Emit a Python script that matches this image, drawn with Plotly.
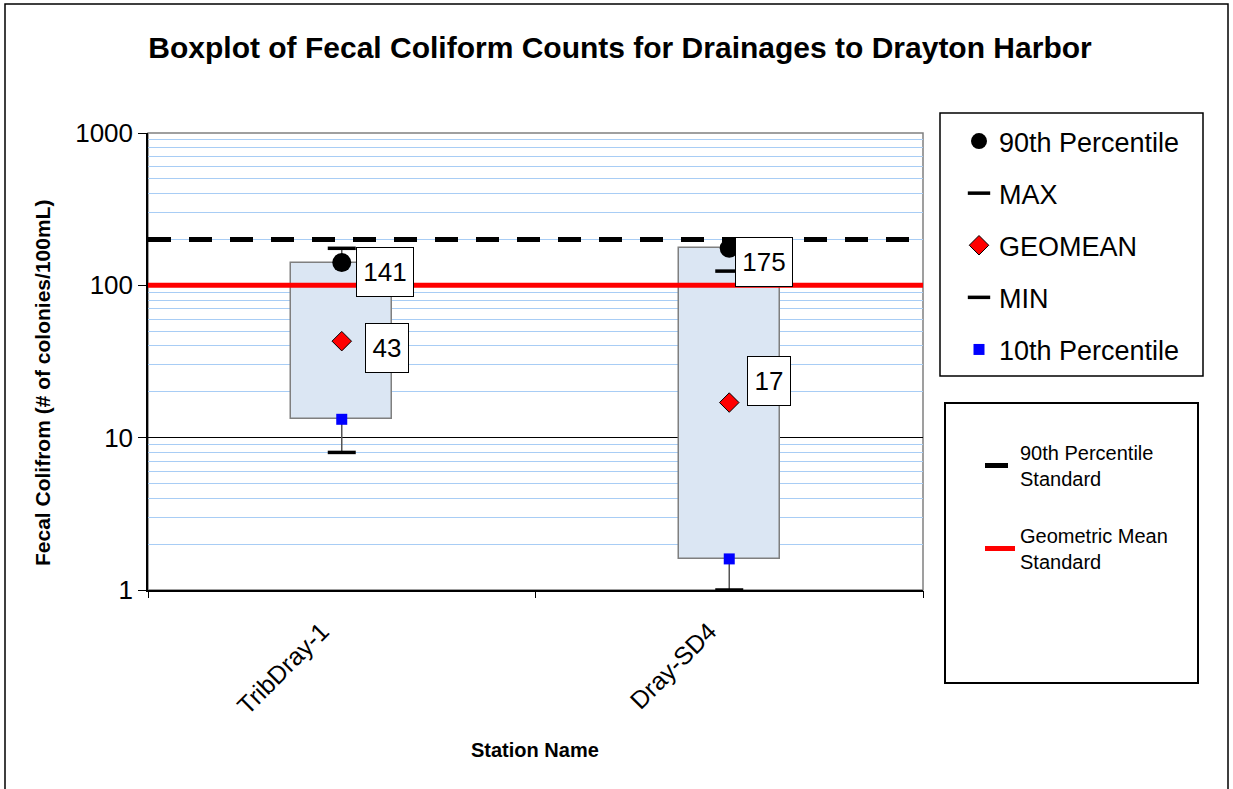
import math
import plotly.graph_objects as go

# ---------------- data ----------------
stations = ["TribDray-1", "Dray-SD4"]
p90 = [141, 175]          # 90th percentile (box top)
vmax = [175, 124]         # MAX
geomean = [43, 17]        # GEOMEAN
vmin = [8, 1]             # MIN
p10 = [13.2, 1.6]         # 10th percentile (box bottom)
p90_labels = ["141", "175"]
geo_labels = ["43", "17"]
std_p90 = 200             # 90th percentile standard
std_geo = 100             # geometric mean standard
ytick_vals = [1, 10, 100, 1000]
ytick_text = ["1", "10", "100", "1000"]

# ---------------- styling ----------------
W, H = 1233, 789
L, R, T, B = 148, 923, 133, 590
FONT = "Liberation Sans, Arial, sans-serif"
BOX_FILL = "#DBE6F3"
GRID_BLUE = "#A8CDF5"

def px_x(px):
    return (px - L) / (R - L)

def px_y(py):
    return (B - py) / (B - T)

# label pixel offsets (style, not data)
p90_lab_shift = [(43, -9), (35, -14)]
geo_lab_shift = [(45, -7), (40, 22)]

n = len(stations)
xs = list(range(n))

fig = go.Figure()

# boxes (10th to 90th percentile)
fig.add_trace(go.Bar(
    x=xs, y=[p90[i] - p10[i] for i in range(n)], base=p10, width=0.26,
    marker=dict(color=BOX_FILL, line=dict(color="#7F7F7F", width=1.5)),
    showlegend=False, hoverinfo="skip"))

# whiskers
wx, wy = [], []
for i in range(n):
    wx += [i, i, None]
    wy += [vmin[i], p10[i], None]
    if vmax[i] > p90[i]:
        wx += [i, i, None]
        wy += [p90[i], vmax[i], None]
fig.add_trace(go.Scatter(x=wx, y=wy, mode="lines",
                         line=dict(color="#555555", width=1.5),
                         showlegend=False, hoverinfo="skip", cliponaxis=False))

common = dict(mode="markers", cliponaxis=False, legend="legend")
fig.add_trace(go.Scatter(x=xs, y=p90, name="90th Percentile", legendgroup="g1",
                         marker=dict(symbol="circle", size=19, color="black"), **common))
fig.add_trace(go.Scatter(x=xs, y=vmax, name="MAX", legendgroup="g2",
                         marker=dict(symbol="line-ew", size=20, color="black",
                                     line=dict(color="black", width=3.5)), **common))
fig.add_trace(go.Scatter(x=xs, y=geomean, name="GEOMEAN", legendgroup="g3",
                         marker=dict(symbol="diamond", size=15, color="#FF0000",
                                     line=dict(color="black", width=1)), **common))
fig.add_trace(go.Scatter(x=xs, y=vmin, name="MIN", legendgroup="g4",
                         marker=dict(symbol="line-ew", size=20, color="black",
                                     line=dict(color="black", width=3.5)), **common))
fig.add_trace(go.Scatter(x=xs, y=p10, name="10th Percentile", legendgroup="g5",
                         marker=dict(symbol="square", size=11, color="#0000FF"), **common))

# standards (on overlay axis x2 spanning the full category range)
xr = [-0.5, n - 0.5]
fig.add_trace(go.Scatter(x=xr, y=[std_p90, std_p90], xaxis="x2", mode="lines",
                         name="90th Percentile<br>Standard", legend="legend2", legendgroup="s1",
                         line=dict(color="black", width=5, dash="23px,18px"),
                         hoverinfo="skip"))
fig.add_trace(go.Scatter(x=xr, y=[std_geo, std_geo], xaxis="x2", mode="lines",
                         name="Geometric Mean<br>Standard", legend="legend2", legendgroup="s2",
                         line=dict(color="#FF0000", width=5),
                         hoverinfo="skip"))

# data labels
annotations = []
for i in range(n):
    for val, txt, (dx, dy) in ((p90[i], p90_labels[i], p90_lab_shift[i]),
                               (geomean[i], geo_labels[i], geo_lab_shift[i])):
        annotations.append(dict(
            x=i, y=math.log10(val), xref="x", yref="y", text=txt, showarrow=False,
            xshift=dx, yshift=dy, font=dict(family=FONT, size=26, color="black"),
            bgcolor="white", bordercolor="black", borderwidth=1, borderpad=1,
            width=14 * len(txt) + 12, height=46, align="center", valign="middle"))

# axis titles
annotations.append(dict(x=px_x(42), y=px_y(383), xref="paper", yref="paper",
                        xanchor="center", yanchor="middle",
                        text="<b>Fecal Colifrom (# of colonies/100mL)</b>", textangle=-90,
                        showarrow=False, font=dict(family=FONT, size=21, color="black")))
annotations.append(dict(x=px_x(535), y=px_y(750), xref="paper", yref="paper",
                        xanchor="center", yanchor="middle",
                        text="<b>Station Name</b>", showarrow=False,
                        font=dict(family=FONT, size=20, color="black")))

shapes = [
    # outer chart border
    dict(type="rect", xref="paper", yref="paper", x0=px_x(5), x1=px_x(1228),
         y0=px_y(805), y1=px_y(4), line=dict(color="black", width=1.5), layer="below"),
    # plot area border (top/right gray)
    dict(type="rect", xref="paper", yref="paper", x0=0, x1=1, y0=0, y1=1,
         line=dict(color="#808080", width=1.5), layer="below"),
    # legend boxes
    dict(type="rect", xref="paper", yref="paper", x0=px_x(940), x1=px_x(1203),
         y0=px_y(376), y1=px_y(113), line=dict(color="black", width=1.5)),
    dict(type="rect", xref="paper", yref="paper", x0=px_x(945), x1=px_x(1198),
         y0=px_y(683), y1=px_y(403), line=dict(color="black", width=2)),
]

fig.update_layout(
    width=W, height=H,
    margin=dict(l=L, r=W - R, t=T, b=H - B, pad=0),
    paper_bgcolor="white", plot_bgcolor="white",
    font=dict(family=FONT, color="black"),
    title=dict(text="<b>Boxplot of Fecal Coliform Counts for Drainages to Drayton Harbor</b>",
               x=620 / W, xref="container", xanchor="center",
               y=1 - 47 / H, yref="container", yanchor="middle",
               font=dict(family=FONT, size=30, color="black")),
    bargap=0,
    xaxis=dict(range=xr, tickvals=xs, ticktext=stations, tickangle=-45,
               tickfont=dict(family=FONT, size=25, color="black"),
               ticks="", showgrid=False, zeroline=False,
               ticklabelstandoff=15, ticklabelshift=-20,
               showline=True, linecolor="black", linewidth=1.5),
    xaxis2=dict(range=xr, overlaying="x", anchor="y", side="bottom",
                tickvals=[i - 0.5 for i in range(n + 1)], ticks="outside", ticklen=7,
                tickcolor="black", showticklabels=False, showgrid=False, zeroline=False,
                showline=False),
    yaxis=dict(type="log", range=[0, 3], tickvals=ytick_vals, ticktext=ytick_text,
               ticks="outside", ticklen=8, tickcolor="black",
               tickfont=dict(family=FONT, size=26, color="black"),
               showline=True, linecolor="black", linewidth=1.5,
               showgrid=True, gridcolor="black", gridwidth=1, zeroline=False,
               minor=dict(dtick="D1", showgrid=True, gridcolor=GRID_BLUE, gridwidth=1, ticks="")),
    legend=dict(x=px_x(959), y=px_y(117), xanchor="left", yanchor="top",
                font=dict(family=FONT, size=27, color="black"),
                tracegroupgap=14, bgcolor="rgba(0,0,0,0)", borderwidth=0),
    legend2=dict(x=px_x(980), y=px_y(433), xanchor="left", yanchor="top",
                 font=dict(family=FONT, size=20, color="black"),
                 tracegroupgap=28, bgcolor="rgba(0,0,0,0)", borderwidth=0),
    annotations=annotations,
    shapes=shapes,
)

fig.write_html("out.html", config={"displayModeBar": False},
               post_script="document.body.style.margin='0px';")
